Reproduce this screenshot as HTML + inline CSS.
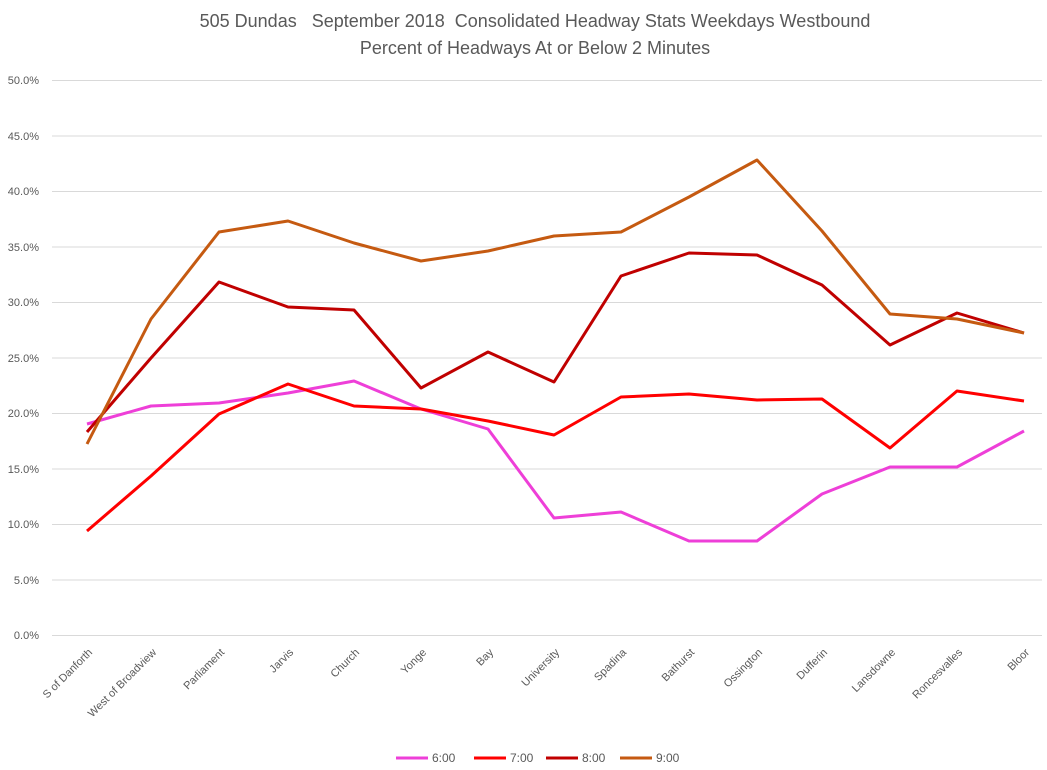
<!DOCTYPE html>
<html><head><meta charset="utf-8"><style>body{margin:0;background:#fff}svg{display:block}</style></head>
<body>
<svg width="1047" height="770" xmlns="http://www.w3.org/2000/svg" font-family="Liberation Sans, sans-serif">
<rect width="1047" height="770" fill="#fff"/>
<text x="535" y="27" text-anchor="middle" font-size="18" fill="#595959" style="white-space:pre" xml:space="preserve">505 Dundas   September 2018  Consolidated Headway Stats Weekdays Westbound</text>
<text x="535" y="54" text-anchor="middle" font-size="18" fill="#595959">Percent of Headways At or Below 2 Minutes</text>
<g stroke="#d9d9d9" stroke-width="1">
<line x1="52" x2="1042" y1="80.5" y2="80.5"/><line x1="52" x2="1042" y1="136" y2="136"/><line x1="52" x2="1042" y1="191.5" y2="191.5"/><line x1="52" x2="1042" y1="247" y2="247"/><line x1="52" x2="1042" y1="302.5" y2="302.5"/><line x1="52" x2="1042" y1="358" y2="358"/><line x1="52" x2="1042" y1="413.5" y2="413.5"/><line x1="52" x2="1042" y1="469" y2="469"/><line x1="52" x2="1042" y1="524.5" y2="524.5"/><line x1="52" x2="1042" y1="580" y2="580"/><line x1="52" x2="1042" y1="635.5" y2="635.5"/>
</g>
<g font-size="11" fill="#595959" text-anchor="end">
<text x="39" y="84">50.0%</text><text x="39" y="140">45.0%</text><text x="39" y="195">40.0%</text><text x="39" y="251">35.0%</text><text x="39" y="306">30.0%</text><text x="39" y="362">25.0%</text><text x="39" y="417">20.0%</text><text x="39" y="473">15.0%</text><text x="39" y="528">10.0%</text><text x="39" y="584">5.0%</text><text x="39" y="639">0.0%</text>
</g>
<g font-size="11" fill="#595959" text-anchor="end">
<text transform="translate(93,653) rotate(-45)">S of Danforth</text>
<text transform="translate(157,653) rotate(-45)">West of Broadview</text>
<text transform="translate(225,653) rotate(-45)">Parliament</text>
<text transform="translate(294,653) rotate(-45)">Jarvis</text>
<text transform="translate(360,653) rotate(-45)">Church</text>
<text transform="translate(427,653) rotate(-45)">Yonge</text>
<text transform="translate(494,653) rotate(-45)">Bay</text>
<text transform="translate(560,653) rotate(-45)">University</text>
<text transform="translate(627,653) rotate(-45)">Spadina</text>
<text transform="translate(695,653) rotate(-45)">Bathurst</text>
<text transform="translate(763,653) rotate(-45)">Ossington</text>
<text transform="translate(828,653) rotate(-45)">Dufferin</text>
<text transform="translate(896,653) rotate(-45)">Lansdowne</text>
<text transform="translate(963,653) rotate(-45)">Roncesvalles</text>
<text transform="translate(1030,653) rotate(-45)">Bloor</text>
</g>
<g fill="none" stroke-width="3" stroke-linejoin="round">
<polyline stroke="#EE3FD8" points="87,424 151,406 219,403 288,393 354,381 421,409 488,429 554,518 621,512 689,541 757,541 822,494 890,467 957,467 1024,431"/>
<polyline stroke="#FF0000" points="87,531 151,476 219,414 288,384 354,406 421,409 488,421 554,435 621,397 689,394 757,400 822,399 890,448 957,391 1024,401"/>
<polyline stroke="#C00000" points="87,432 151,358 219,282 288,307 354,310 421,388 488,352 554,382 621,276 689,253 757,255 822,285 890,345 957,313 1024,333"/>
<polyline stroke="#C55A11" points="87,444 151,319 219,232 288,221 354,243 421,261 488,251 554,236 621,232 689,197 757,160 822,231 890,314 957,319 1024,333"/>
</g>
<g stroke-width="3">
<line x1="396" x2="428" y1="758" y2="758" stroke="#EE3FD8"/>
<line x1="474" x2="506" y1="758" y2="758" stroke="#FF0000"/>
<line x1="546" x2="578" y1="758" y2="758" stroke="#C00000"/>
<line x1="620" x2="652" y1="758" y2="758" stroke="#C55A11"/>
</g>
<g font-size="12" fill="#595959">
<text x="432" y="762">6:00</text><text x="510" y="762">7:00</text><text x="582" y="762">8:00</text><text x="656" y="762">9:00</text>
</g>
</svg>
</body></html>
